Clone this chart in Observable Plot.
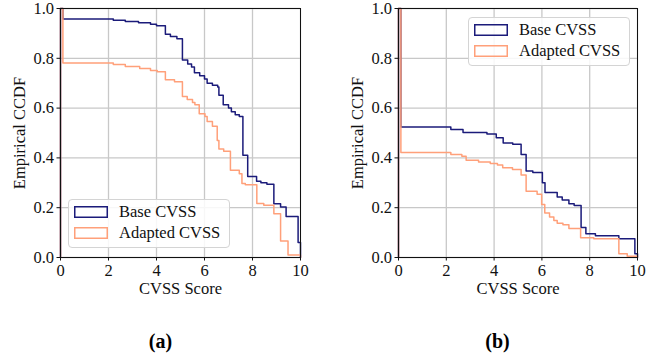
<!DOCTYPE html>
<html>
<head>
<meta charset="utf-8">
<script src="https://cdn.jsdelivr.net/npm/d3@7"></script>
<script src="https://cdn.jsdelivr.net/npm/@observablehq/plot@0.6"></script>
<style>
  html, body { margin: 0; padding: 0; background: #fff; }
  #wrap { position: relative; width: 658px; height: 358px; background: #fff; overflow: hidden; font-family: 'Liberation Serif', 'Times New Roman', serif; }
  .panel { position: absolute; top: 0; width: 329px; height: 358px; }
  .legend { position: absolute; box-sizing: border-box; border: 1px solid #d4d4d4; border-radius: 4px; background: rgba(255,255,255,0.85); }
  .row { position: absolute; left: 0; height: 16px; display: flex; align-items: center; font-size: 16.5px; color: #111; white-space: nowrap; font-family: 'Liberation Serif', 'Times New Roman', serif; }
  .row svg { margin-left: 5px; margin-right: 11px; }
  .caption { position: absolute; top: 330px; font-size: 20px; font-weight: bold; color: #000; text-align: center; line-height: 22px; font-family: 'Liberation Serif', 'Times New Roman', serif; }
  svg text { font-family: 'Liberation Serif', 'Times New Roman', serif; }
</style>
</head>
<body>
<div id="wrap"></div>
<script>
// ---- data ----
const xTicks = [0, 2, 4, 6, 8, 10];
const yTicks = [0, 0.2, 0.4, 0.6, 0.8, 1.0];
const seriesNames = ["Base CVSS", "Adapted CVSS"];
const seriesColors = ["#1b1b7a", "#ffa07a"];
const panelLabels = ["(a)", "(b)"];

// panel (a) – Base CVSS
const aBaseX = [0, 0, 0.1, 2.2, 2.7, 3.25, 3.75, 4.0, 4.37, 4.58, 4.85, 5.08, 5.3, 5.46, 5.58, 5.8, 6.0, 6.11, 6.33, 6.55, 6.6, 6.78, 7.0, 7.12, 7.28, 7.45, 7.6, 7.8, 8.17, 8.35, 8.6, 8.89, 9.17, 9.4, 9.9, 10, 10];
const aBaseY = [0, 1.0, 0.958, 0.953, 0.948, 0.943, 0.937, 0.931, 0.897, 0.888, 0.879, 0.793, 0.777, 0.765, 0.742, 0.73, 0.717, 0.7, 0.692, 0.685, 0.652, 0.613, 0.6, 0.585, 0.573, 0.566, 0.411, 0.325, 0.306, 0.3, 0.294, 0.216, 0.203, 0.165, 0.06, 0, 0];
// panel (a) – Adapted CVSS
const aAdaptX = [0, 0, 0.1, 2.2, 2.7, 3.3, 3.75, 4.03, 4.37, 4.75, 5.08, 5.28, 5.5, 5.6, 5.78, 6.02, 6.11, 6.33, 6.53, 6.6, 6.8, 7.08, 7.45, 7.56, 7.7, 8.18, 8.47, 8.89, 9.17, 9.48, 10, 10];
const aAdaptY = [0, 1.0, 0.781, 0.775, 0.767, 0.759, 0.751, 0.746, 0.714, 0.706, 0.647, 0.635, 0.622, 0.613, 0.577, 0.566, 0.546, 0.527, 0.47, 0.436, 0.427, 0.35, 0.336, 0.297, 0.292, 0.217, 0.21, 0.176, 0.066, 0.01, 0.01, 0];

// panel (b) – Base CVSS
const bBaseX = [0, 0, 0.1, 2.19, 2.7, 3.7, 4.09, 4.38, 4.78, 5.13, 5.34, 5.62, 6.02, 6.13, 6.64, 6.85, 7.13, 7.35, 7.64, 7.84, 8.24, 9.22, 9.89, 10, 10];
const bBaseY = [0, 1.0, 0.524, 0.514, 0.502, 0.496, 0.481, 0.46, 0.455, 0.414, 0.347, 0.341, 0.3, 0.261, 0.243, 0.231, 0.216, 0.209, 0.12, 0.095, 0.087, 0.075, 0.015, 0, 0];
// panel (b) – Adapted CVSS
const bAdaptX = [0, 0, 0.1, 2.19, 2.65, 2.83, 3.35, 3.84, 4.14, 4.36, 4.77, 5.13, 5.34, 5.8, 5.99, 6.12, 6.32, 6.5, 6.64, 6.88, 7.13, 7.62, 8.17, 9.22, 9.57, 10, 10];
const bAdaptY = [0, 1.0, 0.422, 0.414, 0.407, 0.391, 0.384, 0.378, 0.371, 0.36, 0.353, 0.331, 0.266, 0.254, 0.213, 0.179, 0.163, 0.149, 0.138, 0.132, 0.116, 0.079, 0.075, 0.015, 0.005, 0.005, 0];

// ---- helpers ----
const rows = (xs, ys) => xs.map((x, i) => ({x, y: ys[i]}));

const panels = [
  {series: [rows(aBaseX, aBaseY), rows(aAdaptX, aAdaptY)], left: 0, mL: 60, mR: 29,
   legend: {left: 68, top: 199}},
  {series: [rows(bBaseX, bBaseY), rows(bAdaptX, bAdaptY)], left: 329, mL: 69, mR: 21,
   legend: {left: 139, top: 17}}
];

const wrap = document.getElementById("wrap");

panels.forEach((p, pi) => {
  const div = document.createElement("div");
  div.className = "panel";
  div.style.left = p.left + "px";
  wrap.appendChild(div);

  const chart = Plot.plot({
    width: 329,
    height: 300,
    marginLeft: p.mL,
    marginRight: p.mR,
    marginTop: 8,
    marginBottom: 43,
    style: {fontFamily: "'Liberation Serif', 'Times New Roman', serif", fontSize: "16.5px", background: "white", color: "#111"},
    x: {domain: [0, 10]},
    y: {domain: [0, 1]},
    marks: [
      Plot.gridX(xTicks, {stroke: "#c8c8c8", strokeOpacity: 1, strokeWidth: 1.3}),
      Plot.gridY(yTicks, {stroke: "#c8c8c8", strokeOpacity: 1, strokeWidth: 1.3}),
      ...p.series.map((s, si) => Plot.line(s, {x: "x", y: "y", curve: "step-after",
        stroke: seriesColors[si], strokeWidth: 1.5})),
      Plot.frame({stroke: "#111", strokeWidth: 1}),
      Plot.axisX(xTicks, {tickSize: 3.5, tickPadding: 3, fontSize: 16.5, label: "CVSS Score",
        labelAnchor: "center", labelArrow: "none", labelOffset: 36, tickFormat: d => String(d)}),
      Plot.axisY(yTicks, {tickSize: 3.5, tickPadding: 3, fontSize: 16.5, label: "Empirical CCDF",
        labelAnchor: "center", labelArrow: "none", labelOffset: 47, tickFormat: d3.format(".1f")})
    ]
  });
  chart.style.position = "absolute";
  chart.style.left = "0px";
  chart.style.top = "0px";
  div.appendChild(chart);

  // legend
  const lg = document.createElement("div");
  lg.className = "legend";
  lg.style.left = p.legend.left + "px";
  lg.style.top = p.legend.top + "px";
  lg.style.width = "162px";
  lg.style.height = "49px";
  seriesNames.forEach((name, si) => {
    const r = document.createElement("div");
    r.className = "row";
    r.style.top = (4 + si * 21) + "px";
    r.innerHTML = `<svg width="34" height="12"><rect x="0.75" y="0.75" width="32.5" height="10.5" fill="none" stroke="${seriesColors[si]}" stroke-width="1.5"/></svg><span>${name}</span>`;
    lg.appendChild(r);
  });
  div.appendChild(lg);

  const cap = document.createElement("div");
  cap.className = "caption";
  cap.style.left = (pi === 0 ? -4 : 4) + "px";
  cap.style.width = "329px";
  cap.textContent = panelLabels[pi];
  div.appendChild(cap);
});
</script>
</body>
</html>
